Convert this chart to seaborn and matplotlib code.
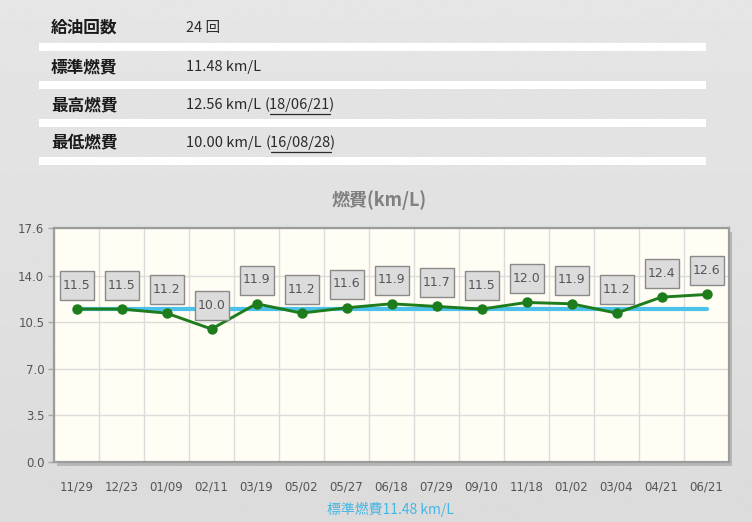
import numpy as np
import pandas as pd
import matplotlib
matplotlib.use("Agg")
import matplotlib.pyplot as plt
import matplotlib.transforms as mtransforms
from matplotlib.patches import Rectangle
import seaborn as sns

# Refuelling dates (MM/DD) and fuel economy per fill-up (km/L)
dates = ["11/29", "12/23", "01/09", "02/11", "03/19", "05/02", "05/27", "06/18",
         "07/29", "09/10", "11/18", "01/02", "03/04", "04/21", "06/21"]
economy = [11.5, 11.5, 11.2, 10.0, 11.9, 11.2, 11.6, 11.9,
           11.7, 11.5, 12.0, 11.9, 11.2, 12.4, 12.6]
average = 11.48
y_ticks = [0.0, 3.5, 7.0, 10.5, 14.0, 17.6]

# Summary table rows
summary_labels = ["給油回数", "標準燃費", "最高燃費", "最低燃費"]
summary_values = ["24 回", "11.48 km/L", "12.56 km/L", "10.00 km/L"]
summary_dates = [None, None, "18/06/21", "16/08/28"]

sns.set_theme(style="white")
plt.rcParams["font.family"] = ["DejaVu Sans", "Noto Sans CJK JP"]
jp = ["Noto Sans CJK JP", "DejaVu Sans"]

W, H = 752, 522
fig = plt.figure(figsize=(W / 100, H / 100), dpi=100)

# soft grey page background
bg = fig.add_axes([0, 0, 1, 1], zorder=-10)
grad = np.linspace(0.90, 0.86, 256).reshape(-1, 1)
bg.imshow(grad, cmap="gray", vmin=0, vmax=1, aspect="auto", extent=[0, 1, 0, 1])
bg.set_axis_off()

def fx(px):
    return px / W

def fy(py):
    return 1 - py / H

# summary table
row_y = [28, 67, 105, 143]
bar_y = [43, 81, 119, 157]
for label, value, date, ry, by in zip(summary_labels, summary_values, summary_dates, row_y, bar_y):
    fig.text(fx(51), fy(ry), label, family=jp, fontsize=12, fontweight="bold",
             color="#1a1a1a", va="center", ha="left")
    t = fig.text(fx(186), fy(ry), value, family=jp, fontsize=10.5,
                 color="#2a2a2a", va="center", ha="left")
    if date is not None:
        fig.canvas.draw()
        ext = t.get_window_extent()
        t2 = fig.text(fx(ext.x1 + 4), fy(ry), "(" + date + ")", family=jp, fontsize=10.5,
                      color="#2a2a2a", va="center", ha="left")
        fig.canvas.draw()
        e2 = t2.get_window_extent()
        fig.add_artist(plt.Line2D([fx(e2.x0 + 5), fx(e2.x1 - 5)],
                                  [fy(ry + 9), fy(ry + 9)], color="#2a2a2a", lw=0.9))
    fig.add_artist(Rectangle((fx(39), fy(by + 8)), fx(706 - 39), 8 / H,
                             transform=fig.transFigure, facecolor="white",
                             edgecolor="none"))

# chart title
fig.text(fx(379), fy(200), "燃費(km/L)", family=jp, fontsize=13, fontweight="bold",
         color="#808080", ha="center", va="center")

# plot area
left, right, top, bottom = 54, 729, 228, 462
ax = fig.add_axes([fx(left), fy(bottom), fx(right - left), (bottom - top) / H])
ax.set_facecolor("#fffdf4")

# drop shadow behind the plot frame
fig.add_artist(Rectangle((fx(left + 3), fy(bottom + 4)), fx(right - left), (bottom - top) / H,
                         transform=fig.transFigure, facecolor="#b8b8b8",
                         edgecolor="none", zorder=-1))

x = np.arange(len(dates))
df = pd.DataFrame({"x": x, "economy": economy})

sns.lineplot(x=[0, len(dates) - 1], y=[average, average], ax=ax,
             color="#4cc1ea", lw=3, zorder=2)
sns.lineplot(data=df, x="x", y="economy", ax=ax, color="#1d7d1d", lw=2.1,
             marker="o", markersize=7.5, markeredgewidth=0, zorder=3)

ax.set_xlim(-0.5, len(dates) - 0.5)
ax.set_ylim(0, 17.6)
ax.set_yticks(y_ticks)
ax.set_yticklabels([f"{v:.1f}" for v in y_ticks])
ax.set_xticks(x)
ax.set_xticklabels(dates)
ax.set_xticks(np.arange(len(dates) + 1) - 0.5, minor=True)
ax.set_xlabel("")
ax.set_ylabel("")

ax.grid(False)
ax.yaxis.grid(True, color="#dcdcdc", lw=1)
ax.xaxis.grid(True, which="minor", color="#dcdcdc", lw=1)
ax.set_axisbelow(True)

ax.tick_params(axis="x", which="major", length=0, pad=13, labelsize=8.5, labelcolor="#555555")
ax.tick_params(axis="x", which="minor", length=4, width=1, color="#a8a8a8", direction="out")
ax.tick_params(axis="y", which="major", length=4, width=1, color="#a8a8a8", direction="out",
               pad=3, labelsize=8.5, labelcolor="#555555", left=True)

for side, sp in ax.spines.items():
    sp.set_visible(True)
    sp.set_color("#9c9c9c")
    sp.set_linewidth(1.6)

# value labels in grey boxes above each point
for xi, v in zip(x, economy):
    anchor = mtransforms.ScaledTranslation(xi, v, ax.transData)
    box = Rectangle((-17, 9), 34, 29, transform=anchor, facecolor="#dcdcdc",
                    edgecolor="#8a8a8a", lw=1, zorder=4, clip_on=False)
    ax.add_artist(box)
    ax.annotate(f"{v:.1f}", (xi, v), xytext=(0, 17.3), textcoords="offset points",
                ha="center", va="center", fontsize=9, color="#555555", zorder=5)

# footer legend
fig.text(fx(390), fy(509), f"標準燃費{average:.2f} km/L", family=jp, fontsize=10,
         color="#46b6e2", ha="center", va="center")

fig.savefig("out.png", dpi=100)
